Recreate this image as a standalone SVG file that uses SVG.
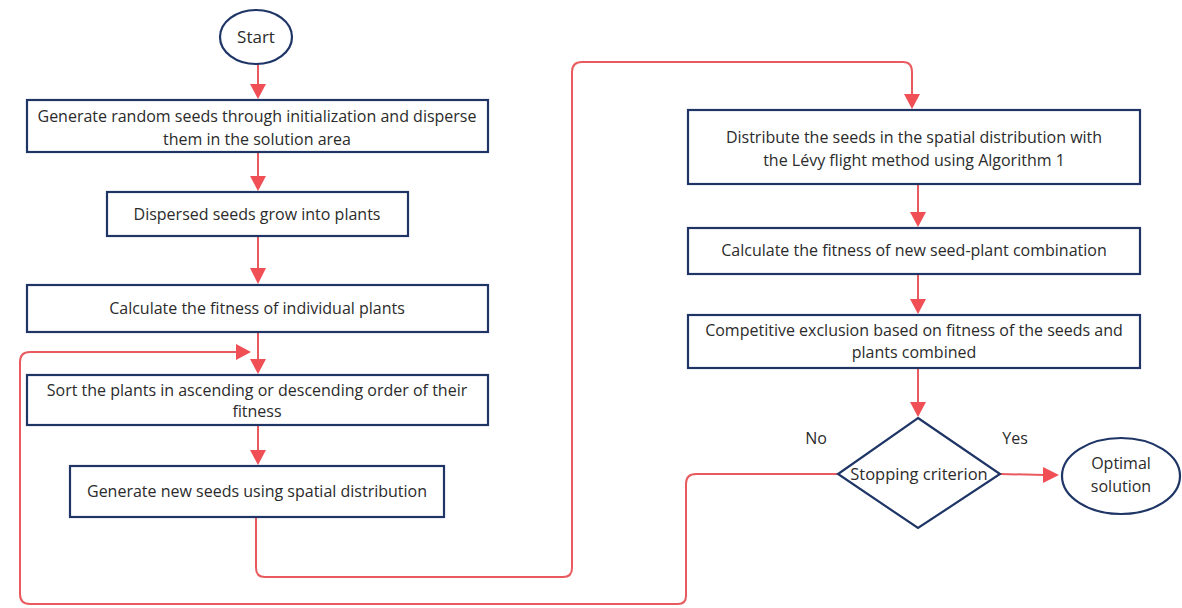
<svg xmlns="http://www.w3.org/2000/svg" width="1182" height="608" viewBox="0 0 1182 608">
<style>
.box{fill:#fff;stroke:#1e3566;stroke-width:2.2}
.t{font-family:"Open Sans","Liberation Sans",sans-serif;font-size:16px;fill:#2b2b2b;text-anchor:middle}
.c{fill:none;stroke:#e85a5e;stroke-width:2}
.a{fill:#ef4f55}
</style>
<g id="connectors">
<path class="c" d="M258,62 L258,86"/>
<path class="a" d="M250,84 L266,84 L258,99 z"/>
<path class="c" d="M258,152 L258,178"/>
<path class="a" d="M250,176 L266,176 L258,191 z"/>
<path class="c" d="M258,236 L258,270"/>
<path class="a" d="M250,268 L266,268 L258,284 z"/>
<path class="c" d="M258,332 L258,362"/>
<path class="a" d="M250,359 L266,359 L258,374 z"/>
<path class="c" d="M258,425 L258,452"/>
<path class="a" d="M250,450 L266,450 L258,465 z"/>
<path class="c" d="M256,517 L256,568 Q256,577 265,577 L563,577 Q572,577 572,568 L572,72 Q572,62 582,62 L903,62 Q912,62 912,72 L912,96"/>
<path class="a" d="M904,94 L920,94 L912,109 z"/>
<path class="c" d="M918,184 L918,214"/>
<path class="a" d="M910,212 L926,212 L918,227 z"/>
<path class="c" d="M918,274 L918,301"/>
<path class="a" d="M910,299 L926,299 L918,314 z"/>
<path class="c" d="M918,368 L918,404"/>
<path class="a" d="M910,402 L926,402 L918,417 z"/>
<path class="c" d="M1000,474 L1045,475"/>
<path class="a" d="M1043,467 L1059,475 L1043,483 z"/>
<path class="c" d="M838,474 L696,474 Q686,474 686,484 L686,596 Q686,604 678,604 L30,604 Q20,604 20,594 L20,362 Q20,352 30,352 L237,352"/>
<path class="a" d="M236,344 L251,352 L236,360 z"/>
</g>
<g id="start">
<ellipse cx="256" cy="37" rx="36" ry="27" fill="#fff" stroke="#1e3566" stroke-width="2.2"/>
<text class="t" x="256" y="43" style="font-size:17px">Start</text>
</g>
<g id="n1">
<rect class="box" x="27" y="100" width="461" height="52"/>
<text class="t" x="257" y="122">Generate random seeds through initialization and disperse</text>
<text class="t" x="257" y="145">them in the solution area</text>
</g>
<g id="n2">
<rect class="box" x="107" y="192" width="301" height="44"/>
<text class="t" x="257" y="220">Dispersed seeds grow into plants</text>
</g>
<g id="n3">
<rect class="box" x="27" y="285" width="461" height="47"/>
<text class="t" x="257" y="314">Calculate the fitness of individual plants</text>
</g>
<g id="n4">
<rect class="box" x="27" y="375" width="461" height="50"/>
<text class="t" x="257" y="396">Sort the plants in ascending or descending order of their</text>
<text class="t" x="257" y="417">fitness</text>
</g>
<g id="n5">
<rect class="box" x="70" y="466" width="374" height="51"/>
<text class="t" x="257" y="497">Generate new seeds using spatial distribution</text>
</g>
<g id="n6">
<rect class="box" x="688" y="110" width="452" height="74"/>
<text class="t" x="914" y="143">Distribute the seeds in the spatial distribution with</text>
<text class="t" x="914" y="166">the Lévy flight method using Algorithm 1</text>
</g>
<g id="n7">
<rect class="box" x="688" y="228" width="452" height="46"/>
<text class="t" x="914" y="256">Calculate the fitness of new seed-plant combination</text>
</g>
<g id="n8">
<rect class="box" x="688" y="315" width="452" height="53"/>
<text class="t" x="914" y="336">Competitive exclusion based on fitness of the seeds and</text>
<text class="t" x="914" y="358">plants combined</text>
</g>
<g id="decision">
<path d="M918,418 L1000,474 L918,528 L838,474 z" fill="#fff" stroke="#1e3566" stroke-width="2.2"/>
<text class="t" x="919" y="480" style="font-size:16.5px">Stopping criterion</text>
</g>
<g id="labels">
<text class="t" x="816" y="444">No</text>
<text class="t" x="1015" y="444">Yes</text>
</g>
<g id="end">
<ellipse cx="1121" cy="476" rx="59" ry="38" fill="#fff" stroke="#1e3566" stroke-width="2.2"/>
<text class="t" x="1121" y="469">Optimal</text>
<text class="t" x="1121" y="492">solution</text>
</g>
</svg>
